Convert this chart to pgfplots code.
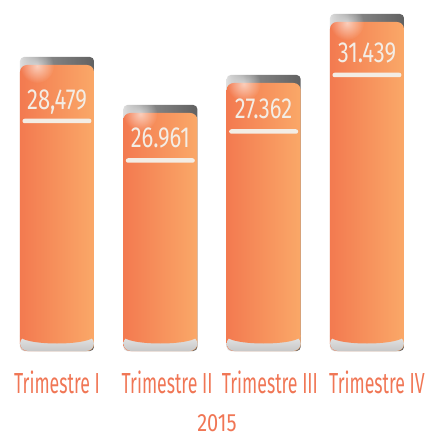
\documentclass[border=0pt]{standalone}
\usepackage{fontspec}
\usepackage{pgfplots}
\usepackage{pgfplotstable}
\pgfplotsset{compat=1.18}
\usetikzlibrary{shapes.geometric,fadings}
\tikzfading[name=glow, inner color=transparent!0, outer color=transparent!100]
\newfontfamily\catfont[FakeStretch=0.61]{Fira Sans}
\newfontfamily\numfont[FakeStretch=0.76]{Fira Sans}
\newfontfamily\yearfont[FakeStretch=0.8]{Fira Sans}
\definecolor{orL}{RGB}{243,122,80}
\definecolor{orR}{RGB}{250,168,104}
\definecolor{labred}{RGB}{240,118,85}
\definecolor{numtxt}{RGB}{243,237,229}
\pgfdeclarehorizontalshading{capshade}{100bp}{color(0bp)=(black!62); color(7bp)=(black!45); color(20bp)=(white); color(38bp)=(black!45); color(75bp)=(black!62); color(100bp)=(black!78)}

% bar heights (pt above baseline)
\pgfplotstableread{
x cap orange
0 294 286
1 246 238
2 276 268
3 337 329
}\bars
% value labels: baseline of digits and position of the underline
\pgfplotstableread{
x ybase yline lab
0 241 230 28,479
1 203 190.5 26.961
2 232.7 219.5 27.362
3 288 276 31.439
}\labs

\begin{document}
\begin{tikzpicture}
\useasboundingbox (0,0) rectangle (428pt,439pt);
\begin{axis}[
  at={(5.33pt,88pt)}, anchor=south west,
  scale only axis, width=413.33pt, height=350pt,
  xmin=-0.5, xmax=3.5, ymin=0, ymax=350,
  axis line style={draw=none}, major tick length=0pt,
  ytick=\empty,
  xtick={0,1.065,2.06,3.097},
  xticklabels={Trimestre I, Trimestre II, Trimestre III, Trimestre IV},
  xticklabel style={anchor=base, yshift=-42pt, inner sep=0pt, text=labred, font=\catfont\fontsize{29}{30}\selectfont},
  xlabel={2015},
  xlabel style={at={(axis description cs:0.512,0)}, anchor=base, yshift=-80pt, inner sep=0pt, text=labred, font=\yearfont\fontsize{25}{26}\selectfont},
  clip=false,
]
\pgfplotsinvokeforeach{0,1,2,3}{
  % dark cap (only its top shows)
  \addplot[ybar, bar width=74pt, bar shift=0pt, draw=none, shading=capshade, rounded corners=4pt,
    restrict x to domain=#1:#1]
    table[x=x, y=cap] {\bars};
  % orange body
  \addplot[ybar, bar width=74pt, bar shift=0pt, draw=none, left color=orL, right color=orR, rounded corners=7pt,
    restrict x to domain=#1:#1]
    table[x=x, y=orange] {\bars};
  % light grey base
  \addplot[ybar, bar width=74pt, bar shift=0pt, draw=none, top color=black!10, bottom color=black!22, rounded corners=8pt]
    coordinates {(#1,15)};
}
% soft glow below each cap
\addplot[draw=none, mark=none, nodes near coords={},
  every node near coord/.style={anchor=center, circle, inner sep=0pt, minimum size=34pt, fill=white, fill opacity=0.6, path fading=glow, xshift=-20pt, yshift=-1pt}]
  table[x=x, y=orange] {\bars};
% curved bottom of the orange body
\addplot[draw=none, mark=none, nodes near coords={},
  every node near coord/.style={anchor=center, ellipse, inner sep=0pt, minimum width=74pt, minimum height=15pt, draw=none, left color=orL, right color=orR}]
  coordinates {(0,15) (1,15) (2,15) (3,15)};
% underline
\addplot[draw=none, mark=none, nodes near coords={},
  every node near coord/.style={anchor=center, inner sep=0pt, minimum width=69pt, minimum height=4.5pt, rounded corners=2.2pt, fill=numtxt}]
  table[x=x, y=yline] {\labs};
% value labels
\addplot[draw=none, mark=none, nodes near coords, point meta=explicit symbolic,
  every node near coord/.style={anchor=base, inner sep=0pt, text=numtxt, font=\numfont\fontsize{29}{30}\selectfont}]
  table[x=x, y=ybase, meta=lab] {\labs};
\end{axis}
\end{tikzpicture}
\end{document}
